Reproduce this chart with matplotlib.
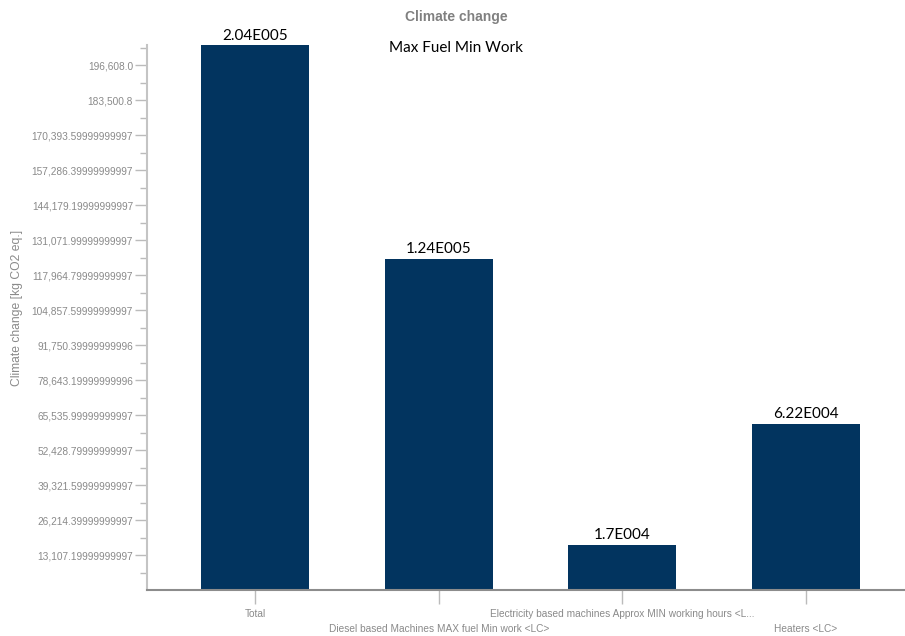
import numpy as np
import matplotlib
matplotlib.use("Agg")
from matplotlib import pyplot as plt
from matplotlib.ticker import FixedLocator

categories = ["Total",
              "Diesel based Machines MAX fuel Min work <LC>",
              "Electricity based machines Approx MIN working hours <L...",
              "Heaters <LC>"]
values = [204000, 124000, 17000, 62200]
value_labels = ["2.04E005", "1.24E005", "1.7E004", "6.22E004"]

tick_step = 13107.2
ytick_labels = ["13,107.19999999997", "26,214.39999999997", "39,321.59999999997",
                "52,428.79999999997", "65,535.99999999997", "78,643.19999999996",
                "91,750.39999999996", "104,857.59999999997", "117,964.79999999997",
                "131,071.99999999997", "144,179.19999999997", "157,286.39999999997",
                "170,393.59999999997", "183,500.8", "196,608.0"]

bar_color = "#02345f"
grey = "#8a8a8a"

fig = plt.figure(figsize=(9.05, 6.36), dpi=100)
ax_h = 544.7
ax = fig.add_axes([147 / 905, 46 / 636, 758 / 905, ax_h / 636])

x = np.arange(len(categories))
ax.bar(x, values, width=0.59, color=bar_color, zorder=2)
ax.set_ylim(0, 204000)
ax.set_xlim(-0.589, 3.54)

for xi, v, lab in zip(x, values, value_labels):
    ax.annotate(lab, (xi, v), xytext=(0, 2), textcoords="offset points",
                ha="center", va="bottom", fontsize=11, family="Lato", color="black")

yt = tick_step * np.arange(1, len(ytick_labels) + 1)
ax.set_yticks(yt)
ax.set_yticklabels(ytick_labels, family="Liberation Sans", fontsize=7.3, color=grey)
ax.yaxis.set_minor_locator(FixedLocator(tick_step * (np.arange(0, 16) + 0.5)))
ax.tick_params(axis="y", which="major", length=9, width=1, color="#bbbbbb", pad=1)
ax.tick_params(axis="y", which="minor", length=5, width=1, color="#bbbbbb")

ax.set_xticks(x)
ax.set_xticklabels(categories, family="Liberation Sans", fontsize=7.3, color=grey)
ax.tick_params(axis="x", length=10, width=1, color="#bbbbbb", pad=4)
# staggered labels: every second one goes one row lower
for i, lbl in enumerate(ax.get_xticklabels()):
    if i % 2 == 1:
        lbl.set_y(-15 / ax_h)

for s in ["top", "right"]:
    ax.spines[s].set_visible(False)
ax.spines["left"].set_color("#c4c4c4")
ax.spines["left"].set_linewidth(1.5)
ax.spines["bottom"].set_color("#8c8c8c")
ax.spines["bottom"].set_linewidth(1.5)

fig.text(0.504, 1 - 17 / 636, "Climate change", ha="center", va="center",
         fontsize=10, fontweight="bold", color="#808080", family="Liberation Sans")
fig.text(456 / 905, 1 - 48 / 636, "Max Fuel Min Work", ha="center", va="center",
         fontsize=11, family="Lato", color="black")
fig.text(17 / 905, 1 - 308 / 636, "Climate change [kg CO2 eq.]", rotation=90,
         ha="center", va="center", fontsize=8.7, color=grey, family="Liberation Sans")

fig.savefig("out.png", dpi=100)
